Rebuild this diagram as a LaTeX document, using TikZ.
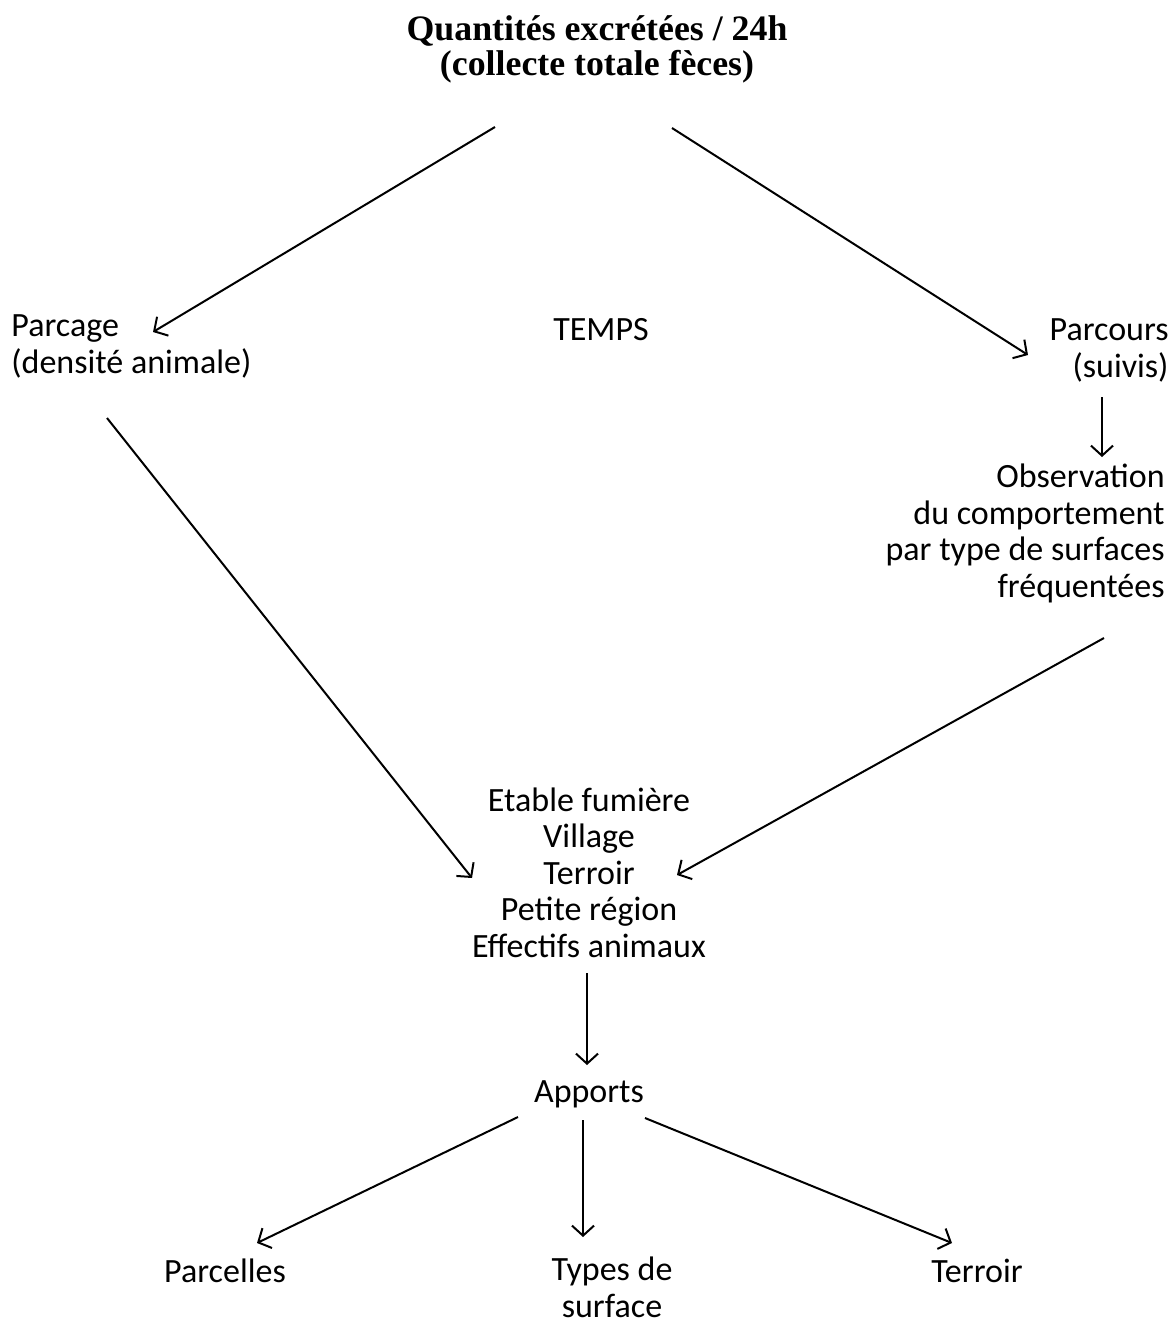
\documentclass[tikz,border=0pt]{standalone}
\usepackage{fontspec}
\setmainfont{Carlito}
\newfontfamily\titrefont{Liberation Serif}
\usetikzlibrary{arrows.meta,calc,positioning}
\tikzset{
  texte/.style={inner sep=0pt, font=\fontsize{17pt}{18.2pt}\selectfont},
  titre/.style={inner sep=0pt, align=center, font=\titrefont\bfseries\fontsize{17.9pt}{17.5pt}\selectfont},
  fleche/.style={line width=1pt, -{Straight Barb[length=5pt,width=11pt]}}
}

\begin{document}
\begin{tikzpicture}[x=0.5pt,y=-0.5pt]
\useasboundingbox (0,0) rectangle (1176,1324);
% (base = ligne du bas)
\node (titre) [titre, anchor=base] at (597,75) {Quantités excrétées / 24h\\(collecte totale fèces)};
\node (parcage) [texte, align=left, anchor=base west] at (11,373) {Parcage\\(densité animale)};
\node (temps) [texte, anchor=base] at (601,340) {TEMPS};
\node (parcours) [texte, align=right, anchor=base east] at (1169,377) {Parcours\\(suivis)};
\node (observation) [texte, align=right, anchor=base east] at (1165,597) {Observation\\du comportement\\par type de surfaces\\fréquentées};
\node (niveaux) [texte, align=center, anchor=base] at (589,957) {Etable fumière\\Village\\Terroir\\Petite région\\Effectifs animaux};
\node (apports) [texte, anchor=base] at (589,1102) {Apports};
\node (parcelles) [texte, anchor=base] at (225,1282) {Parcelles};
\node (types) [texte, align=center, anchor=base] at (612,1317) {Types de\\surface};
\node (terroir) [texte, anchor=base] at (977,1282) {Terroir};
% fleches
\draw[fleche] ($(titre.base)+(-102,52)$) -- ($(parcage.base west)+(142,-41)$);
\draw[fleche] ($(titre.base)+(75,53)$) -- ($(parcours.base east)+(-141,-22)$);
\draw[fleche] ($(parcours.base east)+(-67,20)$) -- ($(observation.base east)+(-63,-140)$);
\draw[fleche] ($(parcage.base west)+(96,45)$) -- ($(niveaux.base)+(-117,-79)$);
\draw[fleche] ($(observation.base east)+(-61,41)$) -- ($(niveaux.base)+(88,-82)$);
\draw[fleche] ($(niveaux.base)+(-2,16)$) -- ($(apports.base)+(-2,-37)$);
\draw[fleche] ($(apports.base)+(-71,15)$) -- ($(parcelles.base)+(32,-39)$);
\draw[fleche] ($(apports.base)+(-6,18)$) -- ($(types.base)+(-29,-80)$);
\draw[fleche] ($(apports.base)+(56,16)$) -- ($(terroir.base)+(-25,-39)$);
\end{tikzpicture}
\end{document}
